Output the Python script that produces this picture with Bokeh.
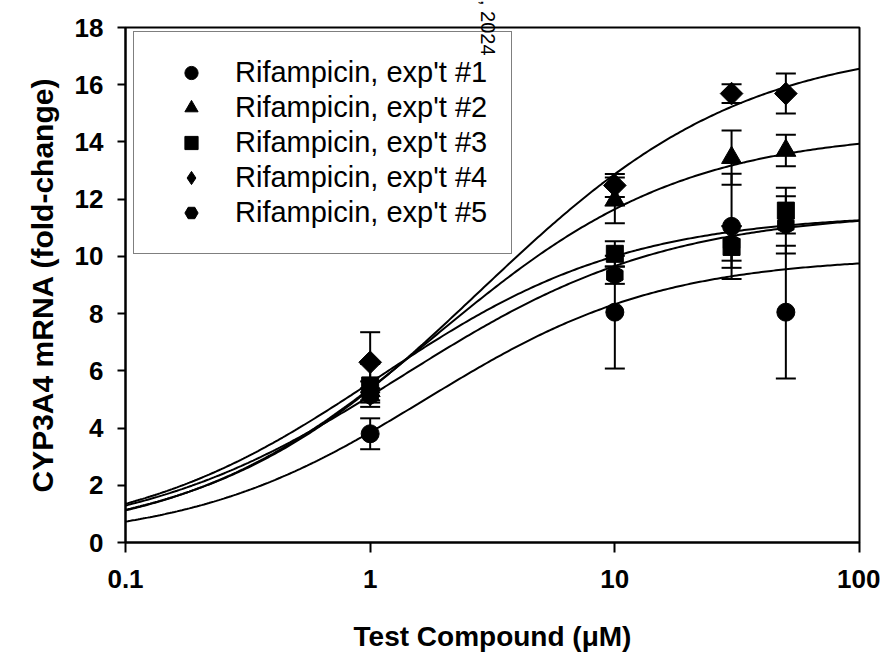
import numpy as np
from bokeh.plotting import figure
from bokeh.models import (ColumnDataSource, Whisker, TeeHead, Legend, LegendItem,
                          Label, FixedTicker, CustomJSTickFormatter)
from bokeh.embed import file_html
from bokeh.resources import INLINE

# ---- data ----
conc = [1, 10, 30, 50]
series_names = ["Rifampicin, exp't #1", "Rifampicin, exp't #2", "Rifampicin, exp't #3",
                "Rifampicin, exp't #4", "Rifampicin, exp't #5"]
exp1_mean = [3.8, 8.05, 11.05, 8.05]
exp1_err = [0.54, 1.97, 1.84, 2.32]
exp2_mean = [5.3, 11.96, 13.45, 13.7]
exp2_err = [0.33, 0.8, 0.95, 0.55]
exp3_mean = [5.49, 10.09, 10.33, 11.6]
exp3_err = [0.75, 0.44, 0.73, 0.8]
exp4_mean = [6.3, 12.48, 15.69, 15.69]
exp4_err = [1.05, 0.4, 0.33, 0.7]
exp5_mean = [5.14, 9.34, 10.45, 11.1]
exp5_err = [0.25, 0.3, 0.6, 1.0]

# fitted Hill-curve parameters (Emax, EC50 in uM, Hill slope)
fit_emax = [10.0, 14.4, 11.5, 17.5, 11.6]
fit_ec50 = [1.68, 1.83, 1.07, 2.78, 1.34]
fit_hill = [0.9, 0.85, 0.85, 0.8, 0.8]

x_ticks = [0.1, 1, 10, 100]
y_ticks = [0, 2, 4, 6, 8, 10, 12, 14, 16, 18]

means = [exp1_mean, exp2_mean, exp3_mean, exp4_mean, exp5_mean]
errs = [exp1_err, exp2_err, exp3_err, exp4_err, exp5_err]
markers = ["circle", "triangle", "square", "square", "hex"]
legend_markers = ["circle", "triangle", "square", "diamond", "hex"]
msizes = [18, 20, 17, 16, 19]
mangles = [0, 0, 0, np.pi / 4, np.pi / 2]

FONT = "Liberation Sans"

p = figure(width=880, height=654, x_axis_type="log", x_range=(0.1, 100), y_range=(0, 18),
           output_backend="svg", toolbar_location=None,
           min_border_left=125, min_border_right=21, min_border_top=27, min_border_bottom=112)

p.xgrid.visible = False
p.ygrid.visible = False
p.outline_line_color = "black"
p.outline_line_width = 2
p.background_fill_color = "white"
p.border_fill_color = "white"

# fitted curves
xs = np.logspace(-1, 2, 300)
for emax, ec50, h in zip(fit_emax, fit_ec50, fit_hill):
    ys = emax * xs ** h / (ec50 ** h + xs ** h)
    p.line(xs, ys, line_color="black", line_width=2)

items = []
for name, m, e, mk, lmk, sz, ang in zip(series_names, means, errs, markers,
                                        legend_markers, msizes, mangles):
    m = np.array(m)
    e = np.array(e)
    src = ColumnDataSource(dict(x=conc, y=m, upper=m + e, lower=m - e))
    w = Whisker(base="x", upper="upper", lower="lower", source=src,
                line_color="black", line_width=2,
                upper_head=TeeHead(size=20, line_width=2, line_color="black"),
                lower_head=TeeHead(size=20, line_width=2, line_color="black"))
    p.add_layout(w)
    r = p.scatter("x", "y", source=src, marker=mk, size=sz, angle=ang,
                  fill_color="black", line_color="black")
    if lmk != mk:
        # legend symbol (legend ignores glyph rotation)
        r = p.scatter("x", "y", source=src, marker=lmk, size=0,
                      fill_color="black", line_color="black")
    items.append(LegendItem(label=name, renderers=[r]))

legend = Legend(items=items, location=(8, 288), padding=24, spacing=2, margin=0,
                glyph_width=66, glyph_height=33, label_height=33, label_standoff=11,
                label_text_font_size="29px", label_text_font=FONT, label_text_color="black",
                border_line_color="black", border_line_width=1,
                background_fill_alpha=0)
p.add_layout(legend)

# axes
p.xaxis.ticker = FixedTicker(ticks=x_ticks, minor_ticks=[])
p.xaxis.formatter = CustomJSTickFormatter(code="return tick < 1 ? tick.toFixed(1) : tick.toFixed(0);")
p.yaxis.ticker = FixedTicker(ticks=y_ticks, minor_ticks=[])
for ax in (p.xaxis, p.yaxis):
    ax.axis_line_width = 2
    ax.axis_line_color = "black"
    ax.major_tick_line_width = 2
    ax.major_tick_line_color = "black"
    ax.major_tick_in = 0
    ax.minor_tick_line_color = None
    ax.major_label_text_font = FONT
    ax.major_label_text_font_style = "bold"
    ax.major_label_text_font_size = "26px"
    ax.major_label_text_color = "black"
    ax.axis_label_text_font = FONT
    ax.axis_label_text_font_style = "bold"
    ax.axis_label_text_color = "black"
p.xaxis.axis_label_text_font_size = "28px"
p.yaxis.axis_label_text_font_size = "30px"
p.xaxis.major_tick_out = 10
p.yaxis.major_tick_out = 8
p.xaxis.major_label_standoff = 17
p.yaxis.major_label_standoff = 14
p.xaxis.axis_label = "Test Compound (\u03bcM)"
p.yaxis.axis_label = "CYP3A4 mRNA (fold-change)"
p.xaxis.axis_label_standoff = 30
p.yaxis.axis_label_standoff = 13

# date stamp crossing the top of the frame; kept in a side panel so it is not clipped
p.add_layout(Label(x=3.045, y=17.02, text=", 2024", angle=-np.pi / 2, level="overlay",
                   text_align="right", text_baseline="middle",
                   text_font=FONT, text_font_size="20px", text_color="black"), "left")

open("out.html", "w").write(file_html(p, INLINE))
